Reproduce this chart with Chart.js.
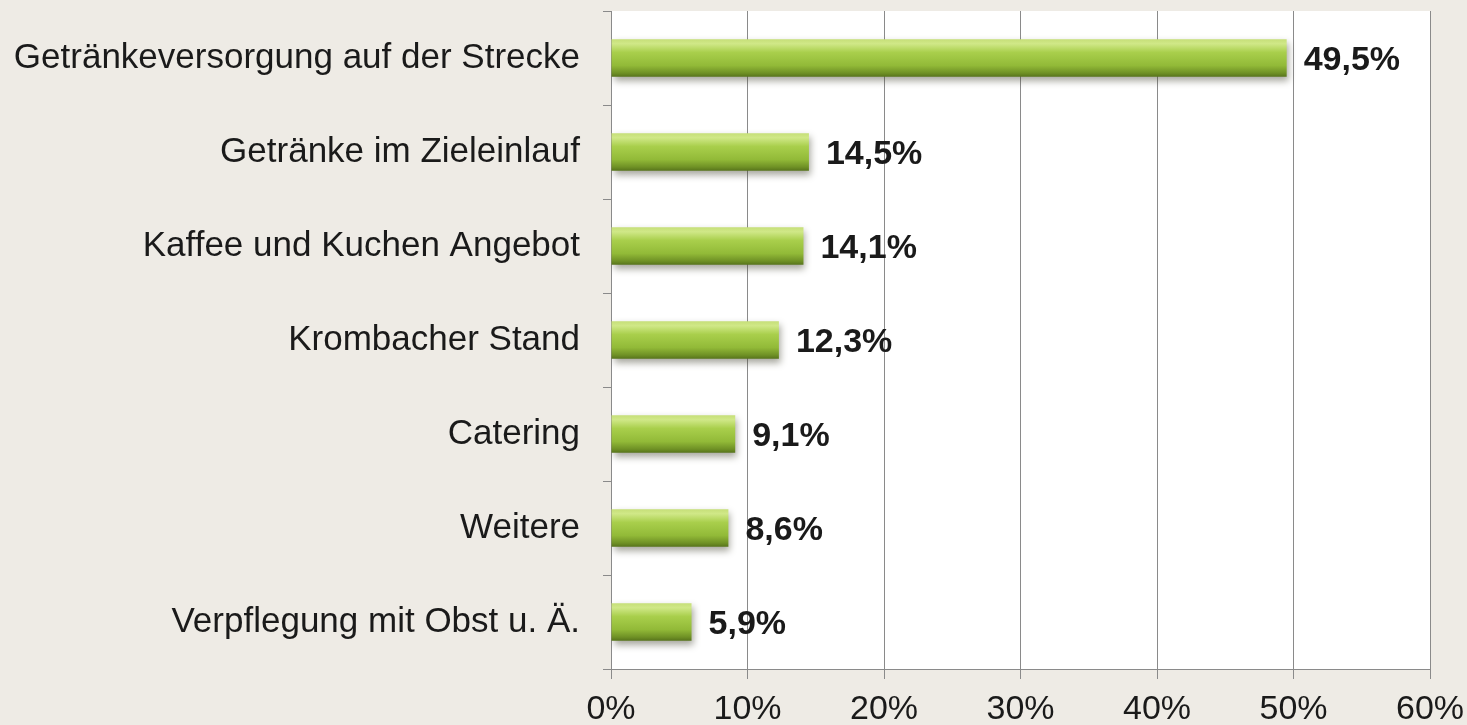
<!DOCTYPE html>
<html>
<head>
<meta charset="utf-8">
<script src="https://cdn.jsdelivr.net/npm/chart.js@4/dist/chart.umd.min.js"></script>
<style>
  html, body { margin: 0; padding: 0; background: #EEEBE5; }
  #wrap { width: 1467px; height: 725px; position: relative; }
</style>
</head>
<body>
<div id="wrap"><canvas id="c" width="1467" height="725"></canvas></div>
<script>
const categories = [
  "Getränkeversorgung auf der Strecke",
  "Getränke im Zieleinlauf",
  "Kaffee und Kuchen Angebot",
  "Krombacher Stand",
  "Catering",
  "Weitere",
  "Verpflegung mit Obst u. Ä."
];
const values = [49.5, 14.5, 14.1, 12.3, 9.1, 8.6, 5.9];
const tickValues = [0, 10, 20, 30, 40, 50, 60];

const FONT = "'Liberation Sans', Arial, sans-serif";
const BAR_PCT = 0.4;

function barGradient(ctx) {
  const chart = ctx.chart;
  const ys = chart.scales.y;
  if (!ys || ctx.dataIndex === undefined) return '#9cc43a';
  const c = ys.getPixelForValue(ctx.dataIndex);
  const h = (ys.height / categories.length) * BAR_PCT;
  if (!isFinite(c) || !isFinite(h) || h <= 0) return '#9cc43a';
  const g = chart.ctx.createLinearGradient(0, c - h / 2, 0, c + h / 2);
  g.addColorStop(0, '#c6df78');
  g.addColorStop(0.12, '#d0e888');
  g.addColorStop(0.35, '#a9cf4c');
  g.addColorStop(0.7, '#92ba38');
  g.addColorStop(0.9, '#6f9125');
  g.addColorStop(1, '#56731b');
  return g;
}

const plotBg = {
  id: 'plotBg',
  beforeDraw(chart) {
    const a = chart.chartArea, c = chart.ctx;
    c.save();
    c.fillStyle = '#ffffff';
    c.fillRect(a.left, a.top, a.right - a.left, a.bottom - a.top);
    c.restore();
  }
};

const barShadow = {
  id: 'barShadow',
  beforeDatasetDraw(chart) {
    const c = chart.ctx;
    c.save();
    c.shadowColor = 'rgba(60,60,40,0.45)';
    c.shadowBlur = 7;
    c.shadowOffsetX = 2;
    c.shadowOffsetY = 4;
  },
  afterDatasetDraw(chart) {
    chart.ctx.restore();
  }
};

const valueLabels = {
  id: 'valueLabels',
  afterDatasetsDraw(chart) {
    const c = chart.ctx;
    const meta = chart.getDatasetMeta(0);
    c.save();
    c.font = "bold 34px " + FONT;
    c.fillStyle = '#1a1a1a';
    c.textAlign = 'left';
    c.textBaseline = 'middle';
    meta.data.forEach((el, i) => {
      const v = values[i].toFixed(1).replace('.', ',') + '%';
      c.fillText(v, el.x + 17, el.y + 3);
    });
    c.restore();
  }
};

new Chart(document.getElementById('c'), {
  type: 'bar',
  data: {
    labels: categories,
    datasets: [{
      data: values,
      backgroundColor: barGradient,
      borderWidth: 0,
      barPercentage: BAR_PCT,
      categoryPercentage: 1.0
    }]
  },
  options: {
    indexAxis: 'y',
    responsive: false,
    animation: false,
    layout: { padding: { top: 11, right: 37, left: 0, bottom: 0 } },
    plugins: { legend: { display: false }, tooltip: { enabled: false } },
    scales: {
      x: {
        min: 0, max: 60,
        afterBuildTicks(s) { s.ticks = tickValues.map(v => ({ value: v })); },
        afterFit(s) { s.height = 56; s.paddingLeft = 0; s.paddingRight = 0; },
        grid: { color: '#8a8a8a', lineWidth: 1, drawTicks: true, tickLength: 10, tickColor: '#8a8a8a' },
        border: { display: true, color: '#8a8a8a', width: 1 },
        ticks: {
          padding: 10,
          color: '#1a1a1a',
          font: { family: FONT, size: 34 },
          maxRotation: 0,
          callback: v => v + '%'
        }
      },
      y: {
        afterFit(s) { s.width = 611; s.paddingTop = 0; s.paddingBottom = 0; },
        grid: { drawOnChartArea: false, drawTicks: true, tickLength: 8, offset: true, color: '#8a8a8a', tickColor: '#8a8a8a' },
        border: { display: true, color: '#8a8a8a', width: 1 },
        ticks: {
          padding: 23,
          color: '#1a1a1a',
          font: { family: FONT, size: 35 }
        }
      }
    }
  },
  plugins: [plotBg, barShadow, valueLabels]
});
</script>
</body>
</html>
